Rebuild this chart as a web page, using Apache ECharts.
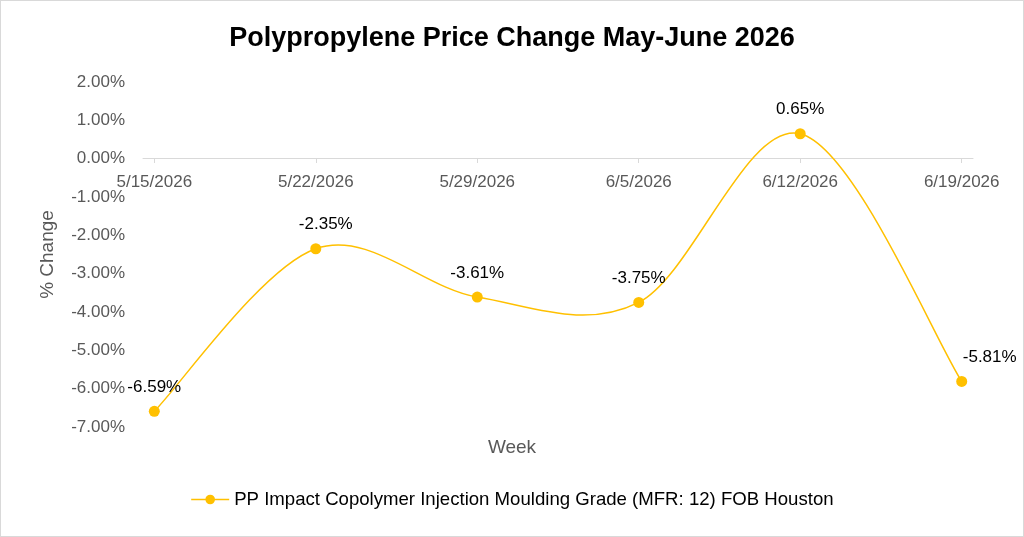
<!DOCTYPE html>
<html>
<head>
<meta charset="utf-8">
<script src="https://cdn.jsdelivr.net/npm/echarts@6/dist/echarts.min.js"></script>
<style>
  html, body { margin: 0; padding: 0; background: #fff; }
  #wrap { width: 1024px; height: 537px; box-sizing: border-box; border: 1px solid #d9d9d9; }
  #chart { width: 1022px; height: 535px; }
</style>
</head>
<body>
<div id="wrap"><div id="chart"></div></div>
<script>
// week labels and % change values
const weeks = ['5/15/2026', '5/22/2026', '5/29/2026', '6/5/2026', '6/12/2026', '6/19/2026'];
const changes = [-6.59, -2.35, -3.61, -3.75, 0.65, -5.81];
const seriesName = 'PP Impact Copolymer Injection Moulding Grade (MFR: 12) FOB Houston';

const GOLD = '#FFC000';
const GREY = '#595959';

const chart = echarts.init(document.getElementById('chart'));

// value axis on x so the axis line can run a little past the first/last week
const points = changes.map((v, i) => [i, v]);

// Excel-style smoothing (Catmull-Rom) — echarts' own smooth clamps control points,
// so it never overshoots like the original does. Draw each segment as a bezier.
function renderSegment(params, api) {
  const i = params.dataIndex;
  if (i >= points.length - 1) return null;
  const c = k => api.coord(points[Math.max(0, Math.min(points.length - 1, k))]);
  const p0 = c(i - 1), p1 = c(i), p2 = c(i + 1), p3 = c(i + 2);
  return {
    type: 'bezierCurve',
    shape: {
      x1: p1[0], y1: p1[1], x2: p2[0], y2: p2[1],
      cpx1: p1[0] + (p2[0] - p0[0]) / 6, cpy1: p1[1] + (p2[1] - p0[1]) / 6,
      cpx2: p2[0] - (p3[0] - p1[0]) / 6, cpy2: p2[1] - (p3[1] - p1[1]) / 6,
    },
    style: { stroke: GOLD, lineWidth: 1.5, fill: null },
    silent: true,
  };
}

chart.setOption({
  animation: false,
  title: [{
    text: 'Polypropylene Price Change May-June 2026',
    left: 'center', top: 19,
    textStyle: { fontFamily: 'Liberation Sans, Arial', fontWeight: 'bold', fontSize: 27, color: '#000' },
  }, {
    text: 'Week',
    left: 'center', top: 432,
    textStyle: { fontFamily: 'Liberation Sans, Arial', fontWeight: 'normal', fontSize: 19, color: GREY },
  }],
  legend: {
    bottom: 22, left: 'center',
    itemWidth: 38, itemHeight: 12, itemGap: 10,
    lineStyle: { color: GOLD, width: 1.5, opacity: 1 },
    textStyle: { fontFamily: 'Liberation Sans, Arial', fontSize: 18.6, color: '#000' },
    data: [seriesName],
  },
  grid: { left: 142, right: 50, top: 81, bottom: 109 },
  xAxis: {
    type: 'value',
    min: -0.07, max: 5.07,
    position: 'bottom',
    offset: -269,
    splitLine: { show: false },
    axisLine: { onZero: false, lineStyle: { color: '#d9d9d9', width: 1 } },
    axisTick: { show: true, customValues: [0, 1, 2, 3, 4, 5], length: 5, lineStyle: { color: '#d9d9d9' } },
    axisLabel: {
      customValues: [0, 1, 2, 3, 4, 5],
      formatter: v => weeks[Math.round(v)],
      color: GREY, fontSize: 17, margin: 16,
      fontFamily: 'Liberation Sans, Arial',
    },
  },
  yAxis: {
    type: 'value',
    min: -7, max: 2, interval: 1,
    name: '% Change', nameLocation: 'middle', nameGap: 86,
    nameTextStyle: { color: GREY, fontSize: 19, fontFamily: 'Liberation Sans, Arial' },
    axisLine: { show: false }, axisTick: { show: false },
    splitLine: { show: false },
    axisLabel: {
      formatter: v => v.toFixed(2) + '%',
      color: GREY, fontSize: 17, margin: 18,
      fontFamily: 'Liberation Sans, Arial',
    },
  },
  series: [{
    name: seriesName,
    type: 'line',
    data: points.map((p, i) => i === 5
      ? { value: p, label: { offset: [28, 0] } }
      : (i === 1 ? { value: p, label: { offset: [10, 0] } } : { value: p })),
    symbol: 'circle', symbolSize: 11,
    itemStyle: { color: GOLD },
    lineStyle: { color: GOLD, width: 1.5, opacity: 0 },
    z: 3,
    label: {
      show: true, position: 'top', distance: 10,
      formatter: p => p.value[1].toFixed(2) + '%',
      color: '#000', fontSize: 17, fontFamily: 'Liberation Sans, Arial',
    },
  }, {
    name: seriesName,
    type: 'custom',
    renderItem: renderSegment,
    data: points,
    encode: { x: 0, y: 1 },
    z: 2,
  }],
});
</script>
</body>
</html>
